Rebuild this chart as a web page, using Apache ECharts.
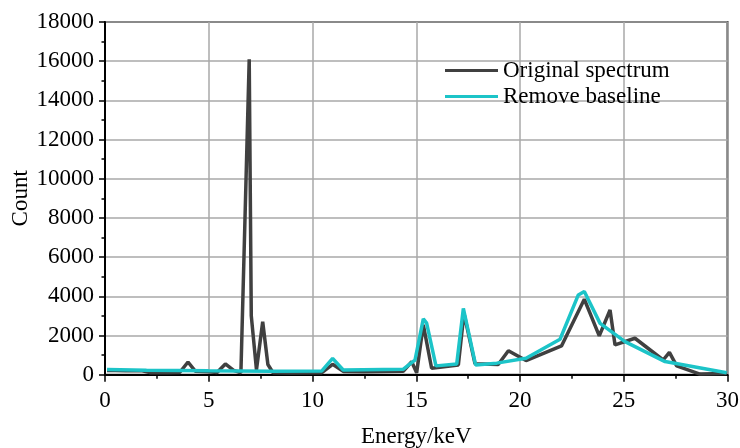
<!DOCTYPE html>
<html>
<head>
<meta charset="utf-8">
<script src="https://cdn.jsdelivr.net/npm/echarts@6/dist/echarts.min.js"></script>
<style>
  html, body { margin: 0; padding: 0; background: #fff; }
  #chart { width: 740px; height: 448px; }
</style>
</head>
<body>
<div id="chart"></div>
<script>
// Energy (keV) and counts of the raw spectrum
const energyOriginal = [0.1, 0.5, 1.0, 1.8, 2.2, 3.0, 3.6, 4.0, 4.35, 5.0, 5.4, 5.8, 6.2, 6.55, 6.95, 7.05, 7.3, 7.6, 7.85, 8.1, 9.0, 10.45, 10.97, 11.5, 12.5, 14.37, 14.78, 15.02, 15.34, 15.74, 17.03, 17.3, 17.83, 18.95, 19.44, 20.29, 22.0, 23.1, 23.82, 24.34, 24.58, 25.54, 26.9, 27.2, 27.55, 28.67, 29.96];
const countOriginal  = [220, 210, 200, 200, 100, 100, 110, 650, 180, 150, 110, 550, 220, 100, 16100, 3000, 250, 2700, 520, 100, 90, 100, 530, 160, 150, 170, 660, 100, 2550, 330, 500, 3130, 560, 520, 1220, 720, 1470, 3850, 1980, 3300, 1520, 1860, 750, 1140, 450, 30, 60];

// Energy (keV) and counts after baseline removal
const energyBaseline = [0.1, 2.0, 5.0, 8.0, 10.45, 10.97, 11.48, 14.38, 14.7, 14.94, 15.34, 15.5, 15.95, 16.95, 17.27, 17.86, 18.88, 20.29, 21.93, 22.81, 23.1, 23.86, 25.06, 26.99, 29.96];
const countBaseline  = [260, 230, 200, 180, 190, 830, 240, 280, 550, 750, 2850, 2630, 450, 550, 3380, 500, 590, 840, 1810, 4070, 4250, 2620, 1690, 670, 100];

// Axis tick values
const xTicks = [0, 5, 10, 15, 20, 25, 30];
const yTicks = [0, 2000, 4000, 6000, 8000, 10000, 12000, 14000, 16000, 18000];

const seriesNames = ['Original spectrum', 'Remove baseline'];

const pairs = (xs, ys) => xs.map((x, i) => [x, ys[i]]);

const FONT = "'Liberation Serif', 'Times New Roman', serif";
const FS = 23;

const chart = echarts.init(document.getElementById('chart'), null, { renderer: 'canvas' });

chart.setOption({
  animation: false,
  backgroundColor: '#ffffff',
  textStyle: { fontFamily: FONT },
  grid: {
    left: 105, right: 12.5, top: 22, bottom: 73.3,
    containLabel: false,
    outerBoundsMode: 'none',
    show: true, borderColor: '#333333', borderWidth: 2, backgroundColor: 'transparent'
  },
  legend: {
    orient: 'vertical',
    left: 440,
    top: 54,
    icon: 'rect',
    itemWidth: 53,
    itemHeight: 3,
    itemGap: 3,
    data: seriesNames,
    textStyle: { fontFamily: FONT, fontSize: FS, color: '#000', padding: [0, 0, 0, 0], lineHeight: 23 }
  },
  xAxis: {
    type: 'value',
    min: xTicks[0],
    max: xTicks[xTicks.length - 1],
    interval: xTicks[1] - xTicks[0],
    name: 'Energy/keV',
    nameLocation: 'middle',
    nameGap: 51,
    nameMoveOverlap: false,
    nameTextStyle: { fontFamily: FONT, fontSize: FS, color: '#000' },
    axisLine: { show: true, onZero: false, lineStyle: { color: '#000', width: 2 } },
    axisTick: { show: true, inside: false, length: 7, lineStyle: { color: '#000', width: 1.5 } },
    minorTick: { show: true, splitNumber: 2, length: 4, lineStyle: { color: '#000', width: 1.5 } },
    axisLabel: { fontFamily: FONT, fontSize: FS, color: '#000', margin: 15, formatter: v => String(v) },
    splitLine: { show: true, lineStyle: { color: '#a9a9a9', width: 1.5 } }
  },
  yAxis: {
    type: 'value',
    min: yTicks[0],
    max: yTicks[yTicks.length - 1],
    interval: yTicks[1] - yTicks[0],
    name: 'Count',
    nameLocation: 'middle',
    nameGap: 73,
    nameMoveOverlap: false,
    nameTextStyle: { fontFamily: FONT, fontSize: FS, color: '#000' },
    axisLine: { show: true, onZero: false, lineStyle: { color: '#000', width: 2 } },
    axisTick: { show: true, inside: false, length: 6, lineStyle: { color: '#000', width: 1.5 } },
    minorTick: { show: true, splitNumber: 2, length: 3.5, lineStyle: { color: '#000', width: 1.5 } },
    axisLabel: { fontFamily: FONT, fontSize: FS, color: '#000', margin: 11, formatter: v => String(v) },
    splitLine: { show: true, lineStyle: { color: '#a9a9a9', width: 1.5 } }
  },
  series: [
    {
      name: seriesNames[0],
      type: 'line',
      data: pairs(energyOriginal, countOriginal),
      symbol: 'none',
      color: '#404040',
      lineStyle: { color: '#404040', width: 3.5 },
      z: 2
    },
    {
      name: seriesNames[1],
      type: 'line',
      data: pairs(energyBaseline, countBaseline),
      symbol: 'none',
      color: '#1cc4c8',
      lineStyle: { color: '#1cc4c8', width: 3.5 },
      z: 3
    }
  ]
});
</script>
</body>
</html>
